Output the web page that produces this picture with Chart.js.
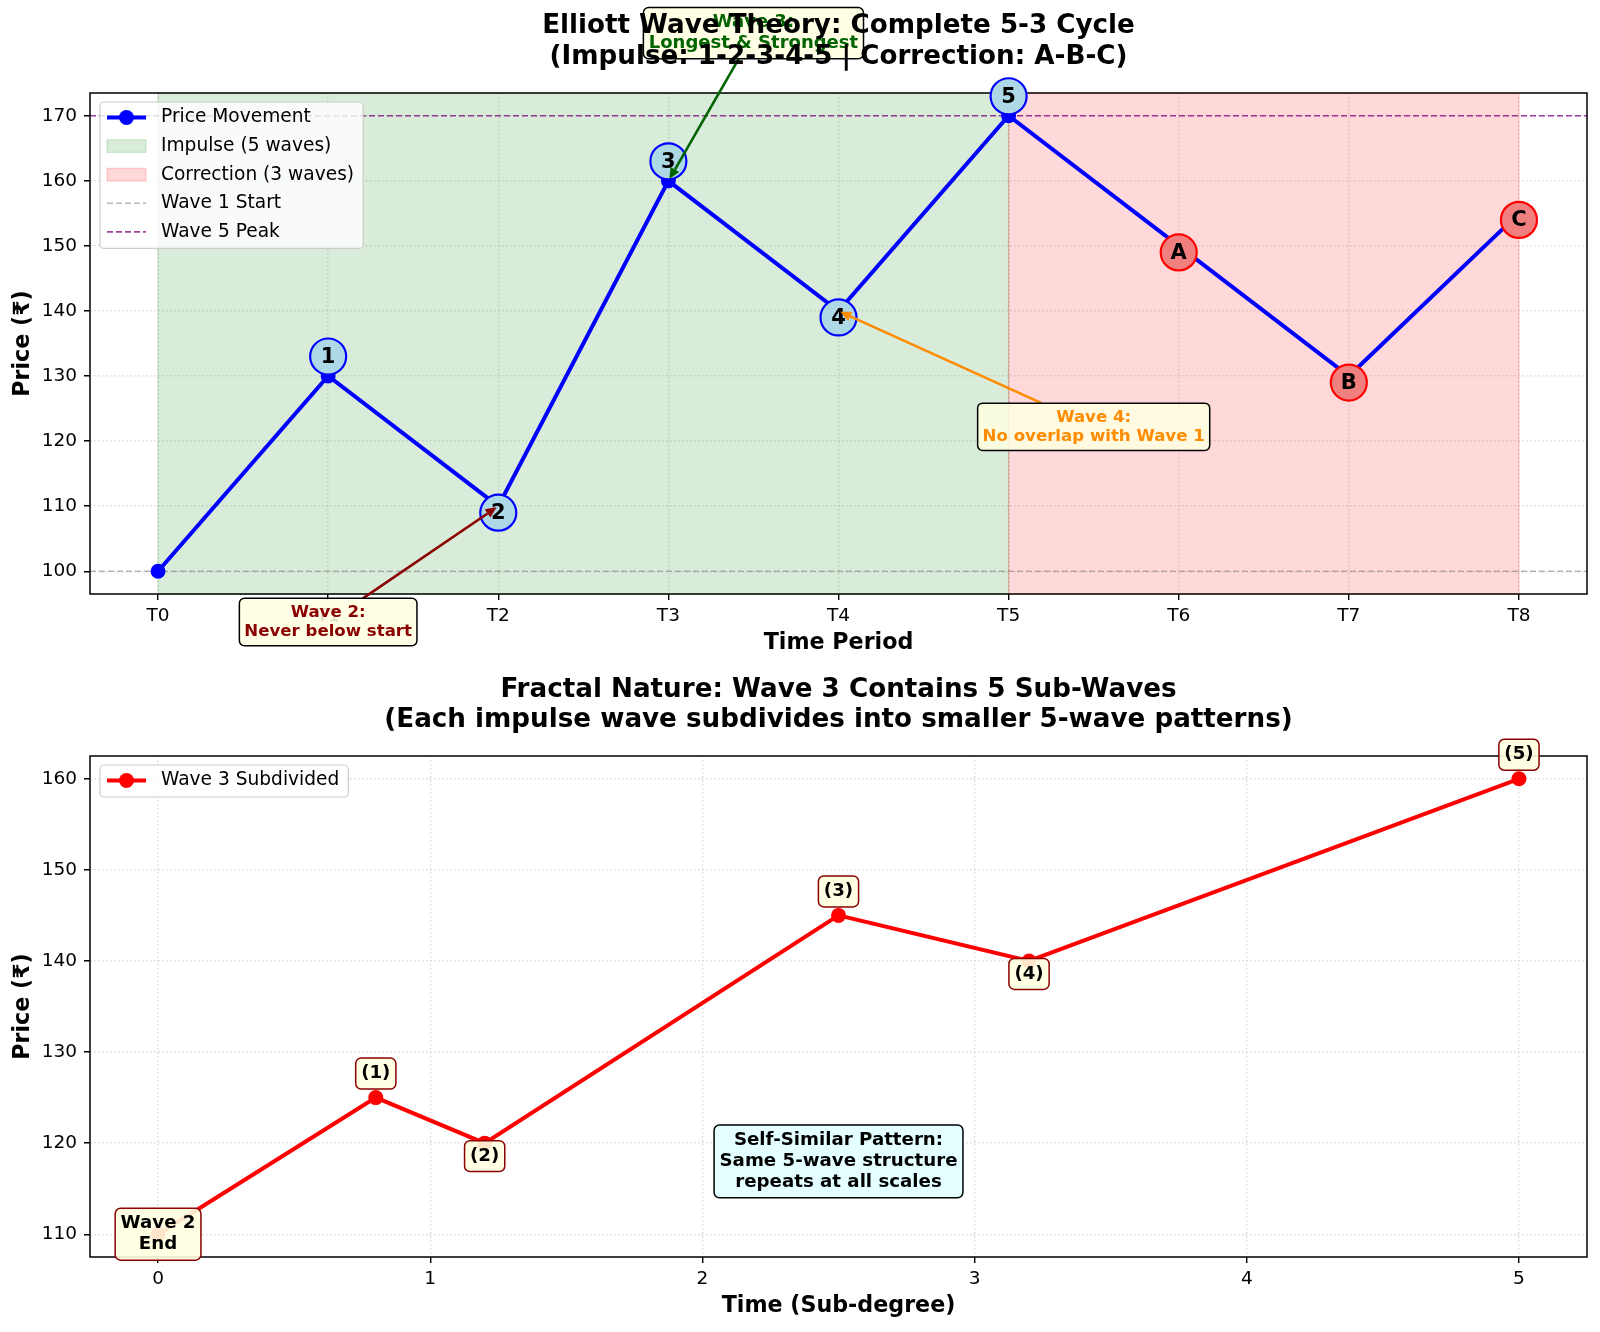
<!DOCTYPE html>
<html lang="en">
<head>
<meta charset="UTF-8">
<title>Elliott Wave Theory: Complete 5-3 Cycle</title>
<script src="https://cdn.jsdelivr.net/npm/chart.js"></script>
<style>
    body {
        margin: 0;
        background: #fff;
        width: 1600px;
        height: 1332px;
        overflow: hidden;
        position: relative;
    }
    canvas { position: absolute; left: 0; }
    #ciclo { top: 0; }
    #fractal { top: 666px; }
</style>
</head>
<body>
<canvas id="ciclo" width="1600" height="666"></canvas>
<canvas id="fractal" width="1600" height="666"></canvas>
<script>
// ---- complete 5-3 cycle
const periods = ['T0', 'T1', 'T2', 'T3', 'T4', 'T5', 'T6', 'T7', 'T8'];
const prices = [100, 130, 110, 160, 140, 170, 150, 130, 155];
const waveNames = ['1', '2', '3', '4', '5', 'A', 'B', 'C'];        // at T1..T8
const waveLabelPrices = [133, 109, 163, 139, 173, 149, 129, 154];
const impulseSpan = [0, 5];
const correctionSpan = [5, 8];
const wave1Start = 100;
const wave5Peak = 170;
const cycleYTicks = [100, 110, 120, 130, 140, 150, 160, 170];

// ---- wave 3 subdivided
const subTimes = [0, 0.8, 1.2, 2.5, 3.2, 5];
const subPrices = [110, 125, 120, 145, 140, 160];
const subNames = ['Wave 2\nEnd', '(1)', '(2)', '(3)', '(4)', '(5)'];
const subXTicks = [0, 1, 2, 3, 4, 5];
const subYTicks = [110, 120, 130, 140, 150, 160];
const selfSimilarAt = [2.5, 118];

const FONT = "'DejaVu Sans', sans-serif";
Chart.defaults.font.family = FONT;
Chart.defaults.font.size = 18.5;
Chart.defaults.color = '#000';

const gridColor = 'rgba(176,176,176,0.45)';
const greenSpan = 'rgba(0,128,0,0.15)';
const redSpan = 'rgba(255,0,0,0.15)';

// matplotlib style 5% margins
function margins(lo, hi) {
    const m = (hi - lo) * 0.05;
    return [lo - m, hi + m];
}

function textBox(ctx, lines, cx, cy, o) {
    ctx.save();
    ctx.font = `bold ${o.size}px ${FONT}`;
    const lh = o.size * 1.15;
    const pad = o.size * 0.3;
    const w = Math.max(...lines.map(l => ctx.measureText(l).width)) + 2 * pad;
    const h = (lines.length - 1) * lh + o.size * 1.1 + 2 * pad;
    const x0 = cx - w / 2, y0 = cy - h / 2;
    ctx.beginPath();
    ctx.roundRect(x0, y0, w, h, pad);
    ctx.fillStyle = o.fill;
    ctx.fill();
    ctx.lineWidth = o.lw || 1.5;
    ctx.strokeStyle = o.edge;
    ctx.stroke();
    ctx.fillStyle = o.color;
    ctx.textAlign = 'center';
    ctx.textBaseline = 'middle';
    lines.forEach((l, i) => ctx.fillText(l, cx, cy + (i - (lines.length - 1) / 2) * lh));
    ctx.restore();
    return { x0: x0, y0: y0, x1: x0 + w, y1: y0 + h };
}

function measureBox(ctx, lines, size) {
    ctx.save();
    ctx.font = `bold ${size}px ${FONT}`;
    const pad = size * 0.3;
    const w = Math.max(...lines.map(l => ctx.measureText(l).width)) + 2 * pad;
    const h = (lines.length - 1) * size * 1.15 + size * 1.1 + 2 * pad;
    ctx.restore();
    return { w: w, h: h };
}

function arrow(ctx, box, cx, cy, tx, ty, color) {
    const dx = tx - cx, dy = ty - cy;
    let t = Infinity;
    if (dx) t = Math.min(t, ((dx > 0 ? box.x1 : box.x0) - cx) / dx);
    if (dy) t = Math.min(t, ((dy > 0 ? box.y1 : box.y0) - cy) / dy);
    const sx = cx + dx * t, sy = cy + dy * t;
    const len = Math.hypot(tx - sx, ty - sy);
    const ux = (tx - sx) / len, uy = (ty - sy) / len;
    const ex = tx - ux * 2, ey = ty - uy * 2;
    const hl = 11, hw = 5;
    const bx = ex - ux * hl, by = ey - uy * hl;
    ctx.save();
    ctx.strokeStyle = color;
    ctx.fillStyle = color;
    ctx.lineWidth = 2.6;
    ctx.beginPath();
    ctx.moveTo(sx, sy);
    ctx.lineTo(bx, by);
    ctx.stroke();
    ctx.beginPath();
    ctx.moveTo(ex, ey);
    ctx.lineTo(bx - uy * hw, by + ux * hw);
    ctx.lineTo(bx + uy * hw, by - ux * hw);
    ctx.closePath();
    ctx.fill();
    ctx.restore();
}

function drawLegend(ctx, x0, y0, items) {
    ctx.save();
    ctx.font = `18.6px ${FONT}`;
    const row = 28.6;
    const tw = Math.max(...items.map(it => ctx.measureText(it.label).width));
    const w = 61 + tw + 9;
    const h = 15 + (items.length - 1) * row + 17;
    ctx.beginPath();
    ctx.roundRect(x0, y0, w, h, 4);
    ctx.fillStyle = 'rgba(255,255,255,0.8)';
    ctx.fill();
    ctx.strokeStyle = '#cccccc';
    ctx.lineWidth = 1.2;
    ctx.stroke();
    items.forEach((it, i) => {
        const y = y0 + 15.5 + i * row;
        const hx0 = x0 + 7, hx1 = x0 + 46;
        if (it.kind === 'line') {
            ctx.strokeStyle = it.color;
            ctx.lineWidth = 4;
            ctx.setLineDash([]);
            ctx.beginPath(); ctx.moveTo(hx0, y); ctx.lineTo(hx1, y); ctx.stroke();
            ctx.fillStyle = it.color;
            ctx.beginPath(); ctx.arc((hx0 + hx1) / 2, y, 7.5, 0, Math.PI * 2); ctx.fill();
        } else if (it.kind === 'patch') {
            ctx.fillStyle = it.color;
            ctx.fillRect(hx0, y - 6.3, hx1 - hx0, 12.6);
            ctx.strokeStyle = it.color;
            ctx.lineWidth = 1.4;
            ctx.strokeRect(hx0, y - 6.3, hx1 - hx0, 12.6);
        } else {
            ctx.strokeStyle = it.color;
            ctx.lineWidth = 1.6;
            ctx.setLineDash([6, 3]);
            ctx.beginPath(); ctx.moveTo(hx0, y); ctx.lineTo(hx1, y); ctx.stroke();
            ctx.setLineDash([]);
        }
        ctx.fillStyle = '#000';
        ctx.textAlign = 'left';
        ctx.textBaseline = 'middle';
        ctx.fillText(it.label, x0 + 61, y);
    });
    ctx.restore();
}

function drawTitle(chart, lines, y) {
    const ctx = chart.ctx, a = chart.chartArea;
    ctx.save();
    ctx.font = `bold 26.2px ${FONT}`;
    ctx.fillStyle = '#000';
    ctx.textAlign = 'center';
    ctx.textBaseline = 'middle';
    lines.forEach((l, i) => ctx.fillText(l, (a.left + a.right) / 2, y + i * 30.5));
    ctx.restore();
}

function frame(chart) {
    const ctx = chart.ctx, a = chart.chartArea;
    ctx.save();
    ctx.strokeStyle = '#000';
    ctx.lineWidth = 1.5;
    ctx.strokeRect(a.left, a.top, a.right - a.left, a.bottom - a.top);
    ctx.restore();
}

function axisCommon(title, titlePad) {
    return {
        type: 'linear',
        grid: { color: gridColor, lineWidth: 1.4, tickLength: 6, tickColor: '#000', tickWidth: 1.4, tickBorderDash: [1, 0] },
        border: { display: false, dash: [1.5, 2.5] },
        title: { display: true, text: title, font: { size: 22.2, weight: 'bold' }, padding: titlePad }
    };
}

// ================= top chart =================
const [cxMin, cxMax] = margins(0, periods.length - 1);
const [cyMin, cyMax] = margins(Math.min(...prices), Math.max(...prices));

const notes = [
    { lines: ['Wave 3:', 'Longest & Strongest'], at: [3, 160], textAt: [3.5, 182.7], color: '#006400', size: 18 },
    { lines: ['Wave 2:', 'Never below start'], at: [2, 110], textAt: [1, 92.2], color: '#8B0000', size: 16.6 },
    { lines: ['Wave 4:', 'No overlap with Wave 1'], at: [4, 140], textAt: [5.5, 122.2], color: '#FF8C00', size: 16.6 }
];

const cicloPlugin = {
    id: 'ciclo',
    beforeDatasetsDraw(chart) {
        const ctx = chart.ctx, a = chart.chartArea, x = chart.scales.x;
        ctx.save();
        [[impulseSpan, greenSpan], [correctionSpan, redSpan]].forEach(([s, c]) => {
            const x0 = x.getPixelForValue(s[0]), x1 = x.getPixelForValue(s[1]);
            ctx.fillStyle = c;
            ctx.fillRect(x0, a.top, x1 - x0, a.bottom - a.top);
            ctx.strokeStyle = c;
            ctx.lineWidth = 1.4;
            ctx.strokeRect(x0, a.top, x1 - x0, a.bottom - a.top);
        });
        ctx.restore();
    },
    afterDatasetsDraw(chart) {
        frame(chart);
        const ctx = chart.ctx, x = chart.scales.x, y = chart.scales.y;
        // wave circles
        waveNames.forEach((n, i) => {
            const px = x.getPixelForValue(i + 1), py = y.getPixelForValue(waveLabelPrices[i]);
            const impulse = i + 1 <= impulseSpan[1];
            ctx.save();
            ctx.beginPath();
            ctx.arc(px, py, 18, 0, Math.PI * 2);
            ctx.fillStyle = impulse ? '#ADD8E6' : '#F08080';
            ctx.fill();
            ctx.lineWidth = 2.2;
            ctx.strokeStyle = impulse ? '#0000FF' : '#FF0000';
            ctx.stroke();
            ctx.font = `bold 21px ${FONT}`;
            ctx.fillStyle = '#000';
            ctx.textAlign = 'center';
            ctx.textBaseline = 'middle';
            ctx.fillText(n, px, py + 1);
            ctx.restore();
        });
    },
    afterDraw(chart) {
        const ctx = chart.ctx, x = chart.scales.x, y = chart.scales.y;
        notes.forEach(nt => {
            const cx = x.getPixelForValue(nt.textAt[0]), cy = y.getPixelForValue(nt.textAt[1]);
            const tx = x.getPixelForValue(nt.at[0]), ty = y.getPixelForValue(nt.at[1]);
            const m = measureBox(ctx, nt.lines, nt.size);
            const box = { x0: cx - m.w / 2, y0: cy - m.h / 2, x1: cx + m.w / 2, y1: cy + m.h / 2 };
            arrow(ctx, box, cx, cy, tx, ty, nt.color);
            textBox(ctx, nt.lines, cx, cy, { size: nt.size, color: nt.color, fill: 'rgba(255,255,224,0.85)', edge: '#000' });
        });
        drawLegend(ctx, 100, 102, [
            { kind: 'line', label: 'Price Movement', color: '#0000FF' },
            { kind: 'patch', label: 'Impulse (5 waves)', color: greenSpan },
            { kind: 'patch', label: 'Correction (3 waves)', color: redSpan },
            { kind: 'dash', label: 'Wave 1 Start', color: 'rgba(128,128,128,0.55)' },
            { kind: 'dash', label: 'Wave 5 Peak', color: 'rgba(128,0,128,0.75)' }
        ]);
        drawTitle(chart, ['Elliott Wave Theory: Complete 5-3 Cycle', '(Impulse: 1-2-3-4-5 | Correction: A-B-C)'], 26.5);
    }
};

const cicloX = axisCommon('Time Period', { top: 0, bottom: 9 });
Object.assign(cicloX, {
    min: cxMin, max: cxMax,
    afterBuildTicks: s => { s.ticks = periods.map((_, i) => ({ value: i })); },
    afterFit: s => { s.height = 72; },
    ticks: { callback: v => periods[v], padding: 5, maxRotation: 0, autoSkip: false }
});
const cicloY = axisCommon('Price (₹)', { top: 10, bottom: 0 });
Object.assign(cicloY, {
    min: cyMin, max: cyMax,
    afterBuildTicks: s => { s.ticks = cycleYTicks.map(v => ({ value: v })); },
    afterFit: s => { s.width = 90; },
    ticks: { padding: 7 }
});

new Chart(document.getElementById('ciclo'), {
    type: 'line',
    data: {
        datasets: [
            {
                label: 'Price Movement',
                data: prices.map((p, i) => ({ x: i, y: p })),
                borderColor: '#0000FF',
                backgroundColor: '#0000FF',
                borderWidth: 4,
                pointRadius: 7.5,
                pointBorderWidth: 0,
                tension: 0,
                order: 0
            },
            {
                label: 'Wave 1 Start',
                data: [{ x: cxMin, y: wave1Start }, { x: cxMax, y: wave1Start }],
                borderColor: 'rgba(128,128,128,0.55)',
                borderWidth: 1.6,
                borderDash: [6, 3],
                pointRadius: 0,
                order: 1
            },
            {
                label: 'Wave 5 Peak',
                data: [{ x: cxMin, y: wave5Peak }, { x: cxMax, y: wave5Peak }],
                borderColor: 'rgba(128,0,128,0.75)',
                borderWidth: 1.6,
                borderDash: [6, 3],
                pointRadius: 0,
                order: 1
            }
        ]
    },
    options: {
        responsive: false,
        animation: false,
        devicePixelRatio: 1,
        events: [],
        layout: { padding: { left: 0, right: 13, top: 93, bottom: 0 } },
        plugins: { legend: { display: false }, tooltip: { enabled: false }, title: { display: false } },
        scales: { x: cicloX, y: cicloY }
    },
    plugins: [cicloPlugin]
});

// ================= bottom chart =================
const [sxMin, sxMax] = margins(Math.min(...subTimes), Math.max(...subTimes));
const [syMin, syMax] = margins(Math.min(...subPrices), Math.max(...subPrices));

const fractalPlugin = {
    id: 'fractal',
    afterDatasetsDraw(chart) {
        frame(chart);
    },
    afterDraw(chart) {
        const ctx = chart.ctx, x = chart.scales.x, y = chart.scales.y;
        const n = subPrices.length;
        subNames.forEach((name, i) => {
            const px = x.getPixelForValue(subTimes[i]), py = y.getPixelForValue(subPrices[i]);
            let dy = 0;
            if (i > 0) {
                const peak = subPrices[i] > subPrices[i - 1] && (i === n - 1 || subPrices[i] > subPrices[i + 1]);
                dy = peak ? -24 : 13;
            }
            textBox(ctx, name.split('\n'), px, py + dy, { size: 18.2, color: '#000', fill: 'rgba(255,255,224,0.9)', edge: '#8B0000' });
        });
        textBox(ctx, ['Self-Similar Pattern:', 'Same 5-wave structure', 'repeats at all scales'],
            x.getPixelForValue(selfSimilarAt[0]), y.getPixelForValue(selfSimilarAt[1]),
            { size: 18.2, color: '#000', fill: 'rgba(224,255,255,0.9)', edge: '#000' });
        drawLegend(ctx, 100, 99, [{ kind: 'line', label: 'Wave 3 Subdivided', color: '#FF0000' }]);
        drawTitle(chart, ['Fractal Nature: Wave 3 Contains 5 Sub-Waves', '(Each impulse wave subdivides into smaller 5-wave patterns)'], 24);
    }
};

const fractalX = axisCommon('Time (Sub-degree)', { top: 0, bottom: 12 });
Object.assign(fractalX, {
    min: sxMin, max: sxMax,
    afterBuildTicks: s => { s.ticks = subXTicks.map(v => ({ value: v })); },
    afterFit: s => { s.height = 75; },
    ticks: { padding: 5, maxRotation: 0, autoSkip: false }
});
const fractalY = axisCommon('Price (₹)', { top: 10, bottom: 0 });
Object.assign(fractalY, {
    min: syMin, max: syMax,
    afterBuildTicks: s => { s.ticks = subYTicks.map(v => ({ value: v })); },
    afterFit: s => { s.width = 90; },
    ticks: { padding: 7 }
});

new Chart(document.getElementById('fractal'), {
    type: 'line',
    data: {
        datasets: [{
            label: 'Wave 3 Subdivided',
            data: subTimes.map((t, i) => ({ x: t, y: subPrices[i] })),
            borderColor: '#FF0000',
            backgroundColor: '#FF0000',
            borderWidth: 4,
            pointRadius: 7.5,
            pointBorderWidth: 0,
            tension: 0
        }]
    },
    options: {
        responsive: false,
        animation: false,
        devicePixelRatio: 1,
        events: [],
        layout: { padding: { left: 0, right: 13, top: 90, bottom: 0 } },
        plugins: { legend: { display: false }, tooltip: { enabled: false }, title: { display: false } },
        scales: { x: fractalX, y: fractalY }
    },
    plugins: [fractalPlugin]
});
</script>
</body>
</html>
